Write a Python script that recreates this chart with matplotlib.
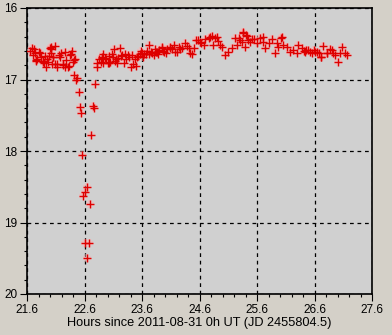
import matplotlib
matplotlib.use("Agg")
import matplotlib.pyplot as plt
from matplotlib.ticker import MultipleLocator, FixedLocator

# Pre-dip plateau
pre_h = [21.69, 21.72, 21.74, 21.80, 21.76, 21.85, 21.88, 21.89, 21.93, 21.95,
         22.00, 22.02, 22.09, 22.01, 22.05, 22.08, 22.12, 22.15, 22.17, 22.19,
         22.26, 22.23, 22.27, 22.33, 22.34, 22.38, 22.37, 22.42, 22.44, 21.78,
         21.75, 21.91, 22.01, 21.99, 22.06, 21.87, 22.13, 22.03, 22.26, 22.32,
         22.22, 21.66, 21.70, 21.83, 21.97]
pre_m = [16.56, 16.58, 16.63, 16.62, 16.73, 16.69, 16.74, 16.77, 16.82, 16.71,
         16.56, 16.54, 16.53, 16.63, 16.69, 16.78, 16.82, 16.66, 16.69, 16.63,
         16.61, 16.80, 16.73, 16.81, 16.66, 16.60, 16.64, 16.73, 16.72, 16.71,
         16.74, 16.67, 16.57, 16.67, 16.68, 16.75, 16.79, 16.79, 16.82, 16.83,
         16.79, 16.60, 16.66, 16.63, 16.76]

# Eclipse / dip
dip_h = [22.40, 22.41, 22.47, 22.46, 22.79, 22.51, 22.52, 22.75, 22.76, 22.54,
         22.71, 22.55, 22.65, 22.61, 22.58, 22.69, 22.61, 22.67, 22.65]
dip_m = [16.75, 16.94, 16.98, 17.00, 17.06, 17.17, 17.39, 17.37, 17.40, 17.47,
         17.78, 18.06, 18.51, 18.57, 18.63, 18.74, 19.29, 19.28, 19.49]

# Post-dip plateau
post_h = [22.82, 22.81, 22.85, 22.90, 22.93, 22.88, 22.97, 23.00, 23.03, 23.07,
          23.11, 23.21, 23.15, 23.17, 23.28, 23.26, 23.30, 23.35, 23.40, 23.44,
          23.48, 23.51, 23.56, 23.60, 23.64, 23.67, 23.73, 23.72, 23.78, 23.84,
          23.90, 23.94, 23.99, 24.03, 24.08, 23.05, 22.93, 22.91, 23.02, 23.49,
          23.80, 23.86, 23.95, 24.15, 24.21, 24.29, 24.35, 24.44, 24.50, 24.54,
          24.61, 24.67, 24.76, 24.82, 24.90, 24.84, 24.96, 25.05, 25.10, 25.16,
          25.25, 25.22, 25.31, 25.36, 25.42, 25.39, 25.48, 25.54, 25.60, 25.65,
          25.71, 25.74, 25.80, 25.86, 25.91, 25.97, 26.03, 26.06, 26.12, 26.17,
          26.23, 26.32, 26.29, 26.38, 26.44, 26.49, 26.55, 26.61, 26.67, 26.72,
          26.75, 26.81, 26.87, 26.93, 27.00, 27.04, 27.07, 27.13, 27.16,
          24.09, 24.18, 24.24, 24.41, 24.47, 24.58, 24.63, 24.70, 24.79, 24.87,
          24.93, 24.99, 25.28, 25.34, 25.35, 25.41, 25.45, 25.51, 25.70, 25.94,
          26.01, 26.41, 26.46, 26.52, 26.59, 26.64, 26.71, 26.82, 26.90, 26.96,
          22.95, 23.09, 23.13, 23.19, 23.23, 23.33, 23.38, 23.42, 23.53, 23.58,
          23.62, 23.69, 23.75, 23.82, 23.88, 23.97, 24.01, 24.12, 24.26, 24.38]
post_m = [16.83, 16.77, 16.72, 16.69, 16.64, 16.76, 16.72, 16.77, 16.67, 16.65,
          16.58, 16.56, 16.71, 16.77, 16.77, 16.66, 16.65, 16.66, 16.83, 16.78,
          16.72, 16.69, 16.64, 16.63, 16.65, 16.64, 16.52, 16.65, 16.63, 16.62,
          16.59, 16.55, 16.62, 16.58, 16.55, 16.76, 16.77, 16.70, 16.77, 16.81,
          16.66, 16.61, 16.56, 16.52, 16.61, 16.56, 16.49, 16.63, 16.56, 16.45,
          16.47, 16.52, 16.42, 16.39, 16.40, 16.52, 16.52, 16.66, 16.61, 16.56,
          16.52, 16.42, 16.45, 16.35, 16.39, 16.54, 16.47, 16.44, 16.49, 16.42,
          16.40, 16.56, 16.49, 16.44, 16.63, 16.54, 16.41, 16.52, 16.54, 16.61,
          16.59, 16.52, 16.63, 16.56, 16.61, 16.59, 16.63, 16.61, 16.63, 16.68,
          16.53, 16.63, 16.58, 16.63, 16.75, 16.63, 16.54, 16.63, 16.66,
          16.56, 16.61, 16.54, 16.56, 16.65, 16.45, 16.49, 16.43, 16.40, 16.42,
          16.46, 16.54, 16.42, 16.47, 16.34, 16.38, 16.45, 16.43, 16.47, 16.49,
          16.42, 16.60, 16.59, 16.62, 16.59, 16.61, 16.68, 16.63, 16.59, 16.66,
          16.70, 16.68, 16.74, 16.70, 16.67, 16.71, 16.68, 16.66, 16.67, 16.60,
          16.68, 16.60, 16.62, 16.58, 16.64, 16.60, 16.63, 16.57, 16.58, 16.53]

hours = pre_h + dip_h + post_h
mags = pre_m + dip_m + post_m

xlabel = "Hours since 2011-08-31 0h UT (JD 2455804.5)"
xticks = [21.6, 22.6, 23.6, 24.6, 25.6, 26.6, 27.6]
yticks = [16, 17, 18, 19, 20]

plt.rcParams['font.family'] = ['Liberation Sans', 'DejaVu Sans']

fig = plt.figure(figsize=(3.92, 3.35), dpi=100)
fig.patch.set_facecolor('#d4d0c8')
ax = fig.add_axes([27/392, 1 - 294/335, 345/392, 286/335])
ax.set_facecolor('#d0d0d0')

ax.set_xlim(21.6, 27.6)
ax.set_ylim(20, 16)
ax.xaxis.set_major_locator(FixedLocator(xticks))
ax.set_xticklabels([f"{t:.1f}" for t in xticks])
ax.xaxis.set_minor_locator(MultipleLocator(0.2))
ax.yaxis.set_major_locator(FixedLocator(yticks))
ax.set_yticklabels([str(t) for t in yticks])
ax.yaxis.set_minor_locator(MultipleLocator(0.2))

ax.grid(True, which='major', color='black', linestyle=(0, (3, 3)), linewidth=0.9)
ax.set_axisbelow(True)
ax.tick_params(which='major', direction='out', length=5, width=0.8,
               labelsize=8.5, colors='black', pad=2)
ax.tick_params(which='minor', direction='out', length=2.5, width=0.8)
for s in ax.spines.values():
    s.set_color('black')
    s.set_linewidth(1.2)

# halo then marker
ax.scatter(hours, mags, marker='+', s=34, linewidths=3.0, color='#ffb0b0',
           alpha=0.5, zorder=3)
ax.scatter(hours, mags, marker='+', s=27, linewidths=1.0, color='#dd0000', zorder=4)

ax.set_xlabel(xlabel, fontsize=9.2, labelpad=1)

fig.savefig('out.png', dpi=100, facecolor=fig.get_facecolor())
